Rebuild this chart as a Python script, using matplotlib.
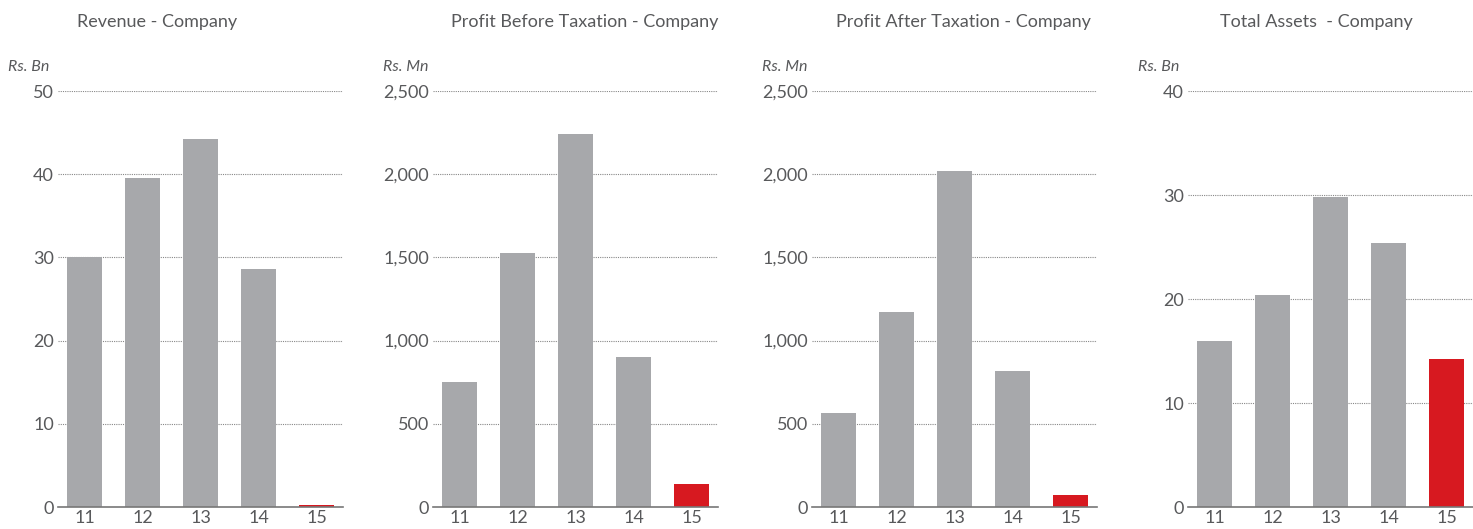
import matplotlib.pyplot as plt
import numpy as np

# data
years = ["11", "12", "13", "14", "15"]
revenue = [30.0, 39.5, 44.2, 28.6, 0.3]
pbt = [750, 1526, 2242, 901, 138]
pat = [565, 1172, 2019, 817, 72]
assets = [16.0, 20.4, 29.8, 25.4, 14.2]

titles = ["Revenue - Company", "Profit Before Taxation - Company",
          "Profit After Taxation - Company", "Total Assets  - Company"]
units = ["Rs. Bn", "Rs. Mn", "Rs. Mn", "Rs. Bn"]
yticks = [[0, 10, 20, 30, 40, 50],
          [0, 500, 1000, 1500, 2000, 2500],
          [0, 500, 1000, 1500, 2000, 2500],
          [0, 10, 20, 30, 40]]
series = [revenue, pbt, pat, assets]

grey = "#a7a8ab"
red = "#d71920"
txt = "#58595b"

plt.rcParams['font.family'] = ['Lato', 'DejaVu Sans']

W, H = 1473, 529
fig = plt.figure(figsize=(W / 100, H / 100), dpi=100)

# panel left edges / widths in pixels
lefts = [58, 433, 812, 1188]
width = 285
base_y = 507
top_y = 91
title_x = [157, 585, 963, 1316]

x = np.arange(len(years))
for i in range(4):
    ax = fig.add_axes([lefts[i] / W, (H - base_y) / H, width / W, (base_y - top_y) / H])
    colors = [grey] * 4 + [red]
    ax.bar(x, series[i], width=0.6, color=colors, zorder=3)
    ax.set_xlim(-0.457, 4.457)
    ax.set_ylim(0, yticks[i][-1])
    ax.set_yticks(yticks[i])
    ax.set_yticklabels([f"{v:,}" for v in yticks[i]])
    ax.set_xticks(x)
    ax.set_xticklabels(years)
    for s in ["top", "right", "left"]:
        ax.spines[s].set_visible(False)
    ax.spines["bottom"].set_color("#777777")
    ax.spines["bottom"].set_linewidth(1.2)
    ax.spines["bottom"].set_zorder(4)
    ax.tick_params(length=0, labelsize=13, colors=txt)
    ax.tick_params(axis="y", pad=3)
    ax.tick_params(axis="x", pad=2)
    for v in yticks[i][1:]:
        ax.axhline(v, color="#888888", lw=0.8, ls=(0, (1, 1)), zorder=1)
    fig.text((lefts[i] - 50) / W, (H - 67) / H, units[i], fontsize=11.5,
             style="italic", color=txt, va="center", ha="left")
    fig.text(title_x[i] / W, (H - 22) / H, titles[i], fontsize=13,
             color=txt, ha="center", va="center")

fig.savefig("out.png", dpi=100)
